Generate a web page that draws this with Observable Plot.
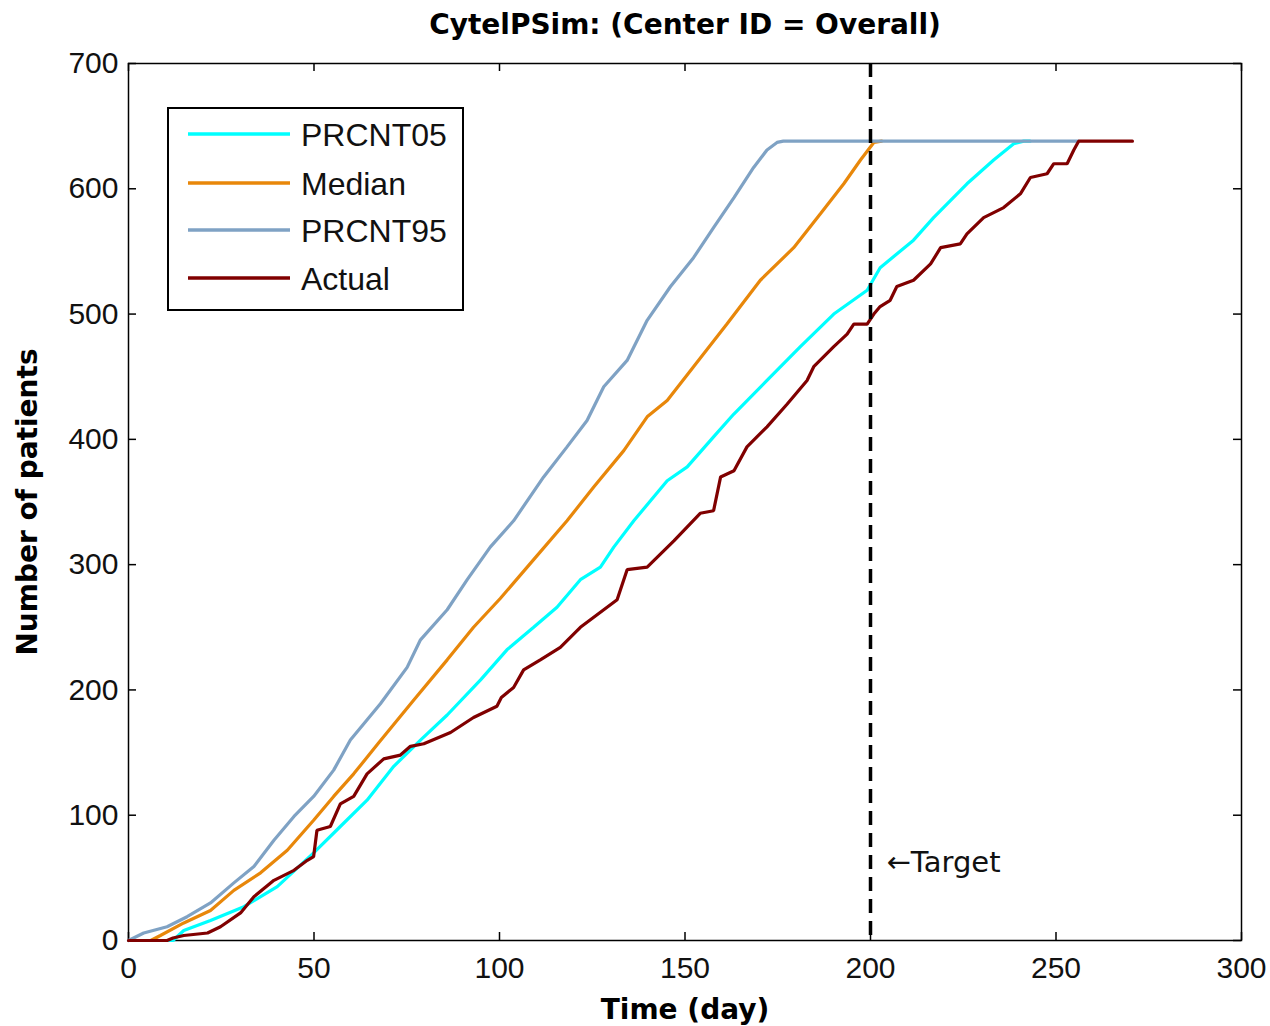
<!DOCTYPE html>
<html>
<head>
<meta charset="utf-8">
<script src="https://cdn.jsdelivr.net/npm/d3@7"></script>
<script src="https://cdn.jsdelivr.net/npm/@observablehq/plot@0.6"></script>
<style>
  html, body { margin: 0; padding: 0; background: #fff; }
  #wrap { position: relative; width: 1270px; height: 1026px; }
  #legend { position: absolute; left: 0; top: 0; }
</style>
</head>
<body>
<div id="wrap"></div>
<script>
// ---------------- data ----------------
const titleText = "CytelPSim: (Center ID = Overall)";
const xLabel = "Time (day)";
const yLabel = "Number of patients";
const xTicks = [0, 50, 100, 150, 200, 250, 300];
const yTicks = [0, 100, 200, 300, 400, 500, 600, 700];
const targetDay = 200;
const targetLabel = "\u2190Target";
const targetLabelY = 62;

const seriesNames = ["PRCNT05", "Median", "PRCNT95", "Actual"];
const seriesColors = ["#00ffff", "#e8870a", "#7fa2c4", "#800000"];

const p05Days = [0, 12, 14.9, 22.1, 31.1, 40.1, 49.9, 57.1, 64.3, 71.5, 78.7, 85.9, 94.9, 102.0, 109.2, 115.5, 121.8, 127.2, 130.8, 136.2, 145.2, 150.6, 157.7, 163.1, 172.1, 181.1, 190.1, 199.1, 202.6, 211.6, 217.0, 226.0, 233.2, 238.6, 241.3, 243];
const p05Vals = [0, 0, 8, 16, 27, 43, 70, 91, 112, 139, 160, 180, 208, 232, 250, 266, 288, 298, 314, 335, 367, 378, 402, 420, 447, 474, 500, 519, 537, 559, 577, 604, 623, 636, 638, 638];

const medDays = [0, 6, 8.6, 14.9, 22.1, 28.4, 35.6, 42.8, 49.9, 55.3, 60.7, 67.5, 76.9, 85.9, 93.0, 100.2, 109.2, 118.2, 125.4, 133.5, 139.8, 145.2, 152.3, 161.3, 170.3, 179.3, 186.5, 192.8, 197.3, 200.9, 203];
const medVals = [0, 0, 4, 14, 24, 40, 54, 72, 96, 115, 133, 158, 192, 224, 250, 273, 304, 335, 362, 391, 418, 431, 458, 492, 527, 553, 580, 604, 623, 637, 638];

const p95Days = [0, 4.1, 10.4, 15.8, 22.1, 28.4, 33.8, 39.2, 44.6, 49.9, 55.3, 59.8, 67.9, 75.1, 78.7, 85.9, 91.3, 97.5, 103.8, 111.9, 118.2, 123.6, 128.1, 134.4, 139.8, 146.1, 152.3, 157.7, 163.2, 168.5, 172.1, 174.8, 176.5, 256];
const p95Vals = [0, 6, 11, 19, 30, 46, 59, 80, 99, 115, 136, 160, 189, 218, 240, 264, 288, 314, 335, 370, 394, 415, 442, 463, 495, 522, 545, 569, 593, 617, 631, 637, 638, 638];

const actDays = [0, 10.4, 12, 14.9, 21.3, 24.8, 30.2, 33.8, 39.2, 44.6, 48.2, 49.9, 50.8, 54.4, 57.1, 60.7, 64.3, 68.8, 73.3, 76.0, 79.6, 86.8, 93.0, 99.3, 100.5, 103.8, 106.5, 111.0, 116.4, 121.8, 125.4, 131.7, 134.4, 139.8, 147.0, 154.1, 157.7, 159.6, 163.2, 166.7, 172.1, 177.5, 182.9, 184.7, 190.1, 193.7, 195.5, 199.1, 200.9, 202.6, 205.3, 207.1, 211.6, 216.2, 218.9, 224.2, 226.0, 230.5, 235.9, 240.4, 243.1, 247.6, 249.4, 253.0, 254.8, 256.1, 270.6];
const actVals = [0, 0, 2, 4, 6, 11, 22, 35, 48, 56, 64, 67, 88, 91, 109, 115, 133, 145, 148, 155, 157, 166, 178, 187, 194, 202, 216, 224, 234, 250, 258, 272, 296, 298, 319, 341, 343, 370, 375, 394, 410, 428, 447, 458, 474, 484, 492, 492, 500, 506, 511, 522, 527, 540, 553, 556, 564, 577, 585, 596, 609, 612, 620, 620, 631, 638, 638];

// ---------------- build ----------------
const seriesDays = [p05Days, medDays, p95Days, actDays];
const seriesVals = [p05Vals, medVals, p95Vals, actVals];
const series = seriesNames.map((name, i) =>
  seriesDays[i].map((d, j) => ({name, day: d, value: seriesVals[i][j]})));

const W = 1270, H = 1026;
const mL = 128, mR = 29, mT = 63, mB = 86;
const fw = W - mL - mR, fh = H - mT - mB;
const tickLen = 8;
const tickFont = "'Liberation Sans', Arial, sans-serif";
const boldFont = "'DejaVu Sans', sans-serif";

const chart = Plot.plot({
  width: W, height: H,
  marginLeft: mL, marginRight: mR, marginTop: mT, marginBottom: mB,
  x: {domain: [0, 300]},
  y: {domain: [0, 700]},
  style: {background: "white", color: "black"},
  marks: [
    Plot.frame({stroke: "black", strokeWidth: 1.5}),
    // inward ticks on all four sides
    Plot.tickX(xTicks, {x: d => d, insetTop: fh - tickLen, stroke: "black", strokeWidth: 1.5}),
    Plot.tickX(xTicks, {x: d => d, insetBottom: fh - tickLen, stroke: "black", strokeWidth: 1.5}),
    Plot.tickY(yTicks, {y: d => d, insetRight: fw - tickLen, stroke: "black", strokeWidth: 1.5}),
    Plot.tickY(yTicks, {y: d => d, insetLeft: fw - tickLen, stroke: "black", strokeWidth: 1.5}),
    Plot.axisX(xTicks, {tickSize: 0, tickPadding: 16, fontSize: 30, fontFamily: tickFont, fill: "#111", label: null}),
    Plot.axisY(yTicks, {tickSize: 0, tickPadding: 10, fontSize: 30, fontFamily: tickFont, fill: "#111", label: null}),
    ...series.map((s, i) => Plot.line(s, {x: "day", y: "value", stroke: seriesColors[i], strokeWidth: 3.2, strokeLinejoin: "miter"})),
    Plot.ruleX([targetDay], {stroke: "black", strokeWidth: 3.5, strokeDasharray: "14,8"}),
    Plot.text([targetLabel], {x: targetDay, y: targetLabelY, dx: 16, textAnchor: "start", fontSize: 29, fontFamily: "'DejaVu Sans', sans-serif", fill: "#111"}),
    Plot.text([titleText], {frameAnchor: "top", dy: -38, lineAnchor: "middle", fontSize: 28, fontWeight: "bold", fontFamily: boldFont, fill: "black"}),
    Plot.text([xLabel], {frameAnchor: "bottom", dy: 70, lineAnchor: "middle", fontSize: 28, fontWeight: "bold", fontFamily: boldFont, fill: "black"}),
    Plot.text([yLabel], {frameAnchor: "left", dx: -100, rotate: -90, textAnchor: "middle", lineAnchor: "middle", fontSize: 28, fontWeight: "bold", fontFamily: boldFont, fill: "black"})
  ]
});

const wrap = document.getElementById("wrap");
wrap.appendChild(chart);

// ---------------- legend overlay ----------------
const leg = d3.select(wrap).append("svg")
  .attr("id", "legend")
  .attr("width", W).attr("height", H)
  .style("pointer-events", "none");
leg.append("rect")
  .attr("x", 168).attr("y", 108).attr("width", 295).attr("height", 202)
  .attr("fill", "white").attr("stroke", "black").attr("stroke-width", 2);
const rowY = [134, 183, 230, 278];
seriesNames.forEach((name, i) => {
  leg.append("line")
    .attr("x1", 188).attr("x2", 290).attr("y1", rowY[i]).attr("y2", rowY[i])
    .attr("stroke", seriesColors[i]).attr("stroke-width", 3.5);
  leg.append("text")
    .attr("x", 301).attr("y", rowY[i]).attr("dy", "0.36em")
    .attr("font-family", tickFont).attr("font-size", 32).attr("fill", "#111")
    .text(name);
});
</script>
</body>
</html>
